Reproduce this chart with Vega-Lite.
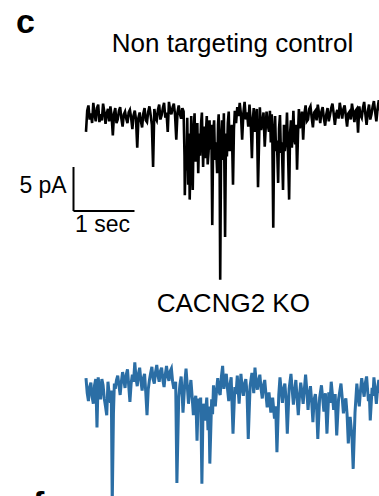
{
  "$schema": "https://vega.github.io/schema/vega-lite/v6.json",
  "width": 379,
  "height": 496,
  "padding": 0,
  "autosize": {"type": "none"},
  "background": "white",
  "config": {"view": {"stroke": null}},
  "datasets": {
    "control": [
      {"t":0.00,"v":-1.8},{"t":0.02,"v":0.6},{"t":0.04,"v":1.2},{"t":0.06,"v":-0.4},{"t":0.08,"v":0.3},{"t":0.10,"v":-0.8},{"t":0.12,"v":1.5},{"t":0.14,"v":0.2},{"t":0.16,"v":-0.6},{"t":0.18,"v":0.9},{"t":0.20,"v":1.3},{"t":0.22,"v":-0.7},{"t":0.24,"v":0.2},{"t":0.26,"v":-0.5},{"t":0.28,"v":1.4},{"t":0.30,"v":0.5},{"t":0.32,"v":-0.9},{"t":0.34,"v":0.3},{"t":0.36,"v":0.8},{"t":0.38,"v":-0.6},
      {"t":0.40,"v":1.1},{"t":0.42,"v":0.0},{"t":0.44,"v":-2.2},{"t":0.46,"v":0.3},{"t":0.48,"v":0.9},{"t":0.50,"v":-0.8},{"t":0.52,"v":-0.4},{"t":0.54,"v":0.6},{"t":0.56,"v":1.0},{"t":0.58,"v":-0.3},{"t":0.60,"v":-1.2},{"t":0.62,"v":0.2},{"t":0.64,"v":0.5},{"t":0.66,"v":-0.3},{"t":0.68,"v":-0.8},{"t":0.70,"v":0.4},{"t":0.72,"v":0.7},{"t":0.74,"v":-0.2},{"t":0.76,"v":-1.5},{"t":0.78,"v":0.1},
      {"t":0.80,"v":0.6},{"t":0.82,"v":-0.4},{"t":0.84,"v":-3.6},{"t":0.86,"v":-0.2},{"t":0.88,"v":0.4},{"t":0.90,"v":-0.6},{"t":0.92,"v":-1.3},{"t":0.94,"v":0.3},{"t":0.96,"v":0.9},{"t":0.98,"v":-0.5},{"t":1.00,"v":-0.7},{"t":1.02,"v":0.5},{"t":1.04,"v":1.1},{"t":1.06,"v":0.1},{"t":1.08,"v":-1.0},{"t":1.10,"v":-5.8},{"t":1.12,"v":0.8},{"t":1.14,"v":-0.2},
      {"t":1.16,"v":-0.5},{"t":1.18,"v":0.7},{"t":1.20,"v":1.3},{"t":1.22,"v":-0.4},{"t":1.24,"v":0.1},{"t":1.26,"v":0.9},{"t":1.28,"v":1.5},{"t":1.30,"v":-0.2},{"t":1.32,"v":0.4},{"t":1.34,"v":-1.8},{"t":1.36,"v":1.6},{"t":1.38,"v":0.6},{"t":1.40,"v":0.2},{"t":1.42,"v":1.0},{"t":1.44,"v":1.4},{"t":1.46,"v":0.1},{"t":1.48,"v":-2.7},
      {"t":1.50,"v":0.4},{"t":1.52,"v":1.2},{"t":1.54,"v":0.2},{"t":1.56,"v":-0.3},{"t":1.58,"v":0.9},
      {"t":1.60,"v":0.5},{"t":1.615,"v":-4.5},{"t":1.62,"v":-9.0},{"t":1.635,"v":-3.5},{"t":1.65,"v":-6.2},{"t":1.66,"v":-0.2},{"t":1.675,"v":-7.8},{"t":1.69,"v":-2.0},{"t":1.70,"v":-9.5},{"t":1.715,"v":-4.2},{"t":1.725,"v":0.0},{"t":1.74,"v":-6.0},{"t":1.75,"v":-8.4},{"t":1.765,"v":-1.5},{"t":1.78,"v":0.3},{"t":1.795,"v":-5.2},{"t":1.81,"v":-3.8},{"t":1.825,"v":-0.8},{"t":1.84,"v":-6.5},{"t":1.855,"v":-2.0},{"t":1.87,"v":-4.5},{"t":1.885,"v":-1.0},{"t":1.90,"v":0.4},{"t":1.92,"v":-5.8},{"t":1.935,"v":-1.2},{"t":1.95,"v":-4.8},{"t":1.965,"v":-2.0},{"t":1.98,"v":0.0},{"t":1.995,"v":-5.5},{"t":2.01,"v":-4.0},{"t":2.025,"v":-0.5},{"t":2.04,"v":-3.8},{"t":2.055,"v":-1.0},{"t":2.07,"v":-12.4},{"t":2.085,"v":-2.2},{"t":2.10,"v":-0.5},{"t":2.115,"v":-5.0},{"t":2.13,"v":-3.0},{"t":2.15,"v":-6.5},{"t":2.165,"v":-1.0},{"t":2.175,"v":0.2},{"t":2.19,"v":-4.5},{"t":2.20,"v":-18.6},{"t":2.215,"v":-3.0},{"t":2.23,"v":-0.5},{"t":2.245,"v":-5.0},{"t":2.26,"v":0.3},{"t":2.28,"v":-13.75},{"t":2.295,"v":-2.0},{"t":2.31,"v":-4.6},{"t":2.325,"v":-0.8},{"t":2.34,"v":0.5},{"t":2.355,"v":-4.0},{"t":2.37,"v":-3.2},{"t":2.39,"v":-1.0},{"t":2.41,"v":-7.8},{"t":2.425,"v":-1.5},
      {"t":2.44,"v":0.6},{"t":2.46,"v":-0.8},{"t":2.48,"v":1.0},{"t":2.50,"v":0.0},{"t":2.52,"v":1.5},{"t":2.54,"v":0.2},{"t":2.56,"v":-2.7},{"t":2.58,"v":0.3},{"t":2.60,"v":1.6},{"t":2.62,"v":-0.4},{"t":2.64,"v":0.4},{"t":2.66,"v":-1.2},{"t":2.68,"v":1.3},{"t":2.70,"v":-0.6},
      {"t":2.72,"v":-4.8},{"t":2.735,"v":-0.5},{"t":2.75,"v":0.9},{"t":2.765,"v":-1.8},{"t":2.78,"v":-0.6},{"t":2.80,"v":0.8},{"t":2.82,"v":-8.1},{"t":2.85,"v":1.0},{"t":2.87,"v":-1.6},{"t":2.89,"v":-0.9},{"t":2.91,"v":0.4},{"t":2.93,"v":-3.5},{"t":2.96,"v":0.5},{"t":2.98,"v":-1.0},
      {"t":3.00,"v":-1.8},{"t":3.015,"v":0.6},{"t":3.03,"v":-3.0},{"t":3.045,"v":0.2},{"t":3.055,"v":-2.4},{"t":3.07,"v":-12.7},{"t":3.085,"v":-1.9},{"t":3.10,"v":0.0},{"t":3.115,"v":-4.0},{"t":3.13,"v":-2.8},{"t":3.15,"v":-7.6},{"t":3.165,"v":-1.4},{"t":3.18,"v":0.1},{"t":3.195,"v":-4.2},{"t":3.21,"v":-3.0},{"t":3.23,"v":-8.4},{"t":3.245,"v":-1.0},{"t":3.26,"v":-4.0},{"t":3.28,"v":-2.5},{"t":3.295,"v":0.4},{"t":3.31,"v":-3.5},{"t":3.33,"v":-9.5},{"t":3.345,"v":-2.0},{"t":3.36,"v":-0.5},{"t":3.375,"v":-3.6},{"t":3.39,"v":-1.4},{"t":3.40,"v":0.6},{"t":3.415,"v":-2.6},{"t":3.43,"v":-3.2},{"t":3.445,"v":-1.0},{"t":3.46,"v":-6.1},{"t":3.475,"v":-2.2},{"t":3.49,"v":0.8},
      {"t":3.505,"v":-1.4},{"t":3.52,"v":-0.9},{"t":3.54,"v":0.5},{"t":3.56,"v":-2.7},{"t":3.58,"v":0.2},{"t":3.60,"v":1.2},{"t":3.62,"v":-0.6},{"t":3.64,"v":-0.4},{"t":3.66,"v":0.8},{"t":3.68,"v":1.1},{"t":3.70,"v":-0.2},
      {"t":3.72,"v":-1.3},{"t":3.74,"v":0.4},{"t":3.76,"v":0.6},{"t":3.78,"v":-0.5},{"t":3.80,"v":1.3},{"t":3.82,"v":0.3},{"t":3.84,"v":-0.8},{"t":3.86,"v":0.5},{"t":3.88,"v":1.0},{"t":3.90,"v":-0.3},{"t":3.92,"v":-1.1},{"t":3.94,"v":0.2},{"t":3.96,"v":0.9},{"t":3.98,"v":-0.6},{"t":4.00,"v":0.1},{"t":4.02,"v":0.9},{"t":4.04,"v":1.4},{"t":4.06,"v":0.3},{"t":4.08,"v":-1.0},
      {"t":4.10,"v":0.2},{"t":4.12,"v":0.7},{"t":4.14,"v":-0.3},{"t":4.16,"v":1.5},{"t":4.18,"v":0.6},{"t":4.20,"v":-0.3},{"t":4.22,"v":0.8},{"t":4.24,"v":1.2},{"t":4.26,"v":0.0},{"t":4.28,"v":-1.2},{"t":4.30,"v":0.3},{"t":4.32,"v":0.5},{"t":4.34,"v":-0.4},{"t":4.36,"v":1.4},{"t":4.38,"v":0.4},{"t":4.40,"v":-0.7},{"t":4.42,"v":0.6},{"t":4.44,"v":0.8},{"t":4.46,"v":-1.9},
      {"t":4.48,"v":1.1},{"t":4.50,"v":0.1},{"t":4.52,"v":-0.2},{"t":4.54,"v":0.9},{"t":4.56,"v":1.6},{"t":4.58,"v":0.2},{"t":4.60,"v":-1.0},{"t":4.62,"v":0.5},{"t":4.64,"v":1.3},{"t":4.66,"v":-0.4},{"t":4.68,"v":0.2},{"t":4.70,"v":1.1},{"t":4.72,"v":1.7},{"t":4.74,"v":0.5},{"t":4.76,"v":-0.6},{"t":4.78,"v":0.8},{"t":4.80,"v":1.8},{"t":4.82,"v":0.7},{"t":4.84,"v":0.4}
    ],
    "ko": [
      {"t":0.00,"v":-29.8},{"t":0.02,"v":-31.5},{"t":0.04,"v":-32.4},{"t":0.06,"v":-30.8},{"t":0.08,"v":-30.3},{"t":0.10,"v":-31.9},{"t":0.12,"v":-32.7},{"t":0.14,"v":-30.6},{"t":0.16,"v":-29.9},{"t":0.18,"v":-35.4},{"t":0.20,"v":-29.7},{"t":0.22,"v":-31.0},{"t":0.24,"v":-32.2},{"t":0.26,"v":-29.9},{"t":0.28,"v":-30.6},{"t":0.30,"v":-32.1},{"t":0.32,"v":-33.0},
      {"t":0.34,"v":-34.0},{"t":0.36,"v":-30.2},{"t":0.38,"v":-31.6},{"t":0.40,"v":-32.6},{"t":0.415,"v":-31.2},{"t":0.43,"v":-44.2},{"t":0.45,"v":-33.8},{"t":0.465,"v":-30.4},{"t":0.48,"v":-31.0},{"t":0.50,"v":-30.0},{"t":0.52,"v":-29.5},{"t":0.54,"v":-30.6},{"t":0.56,"v":-31.7},{"t":0.58,"v":-30.2},{"t":0.60,"v":-29.1},{"t":0.62,"v":-30.0},{"t":0.64,"v":-30.9},{"t":0.66,"v":-29.4},
      {"t":0.68,"v":-28.8},{"t":0.70,"v":-30.6},{"t":0.72,"v":-32.5},{"t":0.74,"v":-30.4},{"t":0.76,"v":-29.4},{"t":0.78,"v":-30.2},{"t":0.80,"v":-28.0},{"t":0.82,"v":-29.8},{"t":0.84,"v":-30.7},{"t":0.86,"v":-29.3},{"t":0.88,"v":-28.6},{"t":0.90,"v":-30.1},{"t":0.92,"v":-31.2},{"t":0.94,"v":-29.8},{"t":0.96,"v":-29.3},{"t":0.98,"v":-31.4},{"t":1.00,"v":-34.0},{"t":1.02,"v":-31.1},{"t":1.04,"v":-30.0},{"t":1.06,"v":-29.2},
      {"t":1.08,"v":-28.5},{"t":1.10,"v":-29.9},{"t":1.12,"v":-30.4},{"t":1.14,"v":-29.1},{"t":1.16,"v":-28.3},{"t":1.18,"v":-29.5},{"t":1.20,"v":-30.2},{"t":1.22,"v":-29.0},{"t":1.24,"v":-28.6},{"t":1.26,"v":-30.0},{"t":1.28,"v":-30.8},{"t":1.30,"v":-29.4},{"t":1.32,"v":-28.4},{"t":1.34,"v":-29.6},{"t":1.36,"v":-30.1},{"t":1.38,"v":-29.0},{"t":1.40,"v":-28.7},{"t":1.42,"v":-30.2},{"t":1.44,"v":-31.0},
      {"t":1.47,"v":-30.2},{"t":1.49,"v":-41.7},{"t":1.52,"v":-32.0},{"t":1.54,"v":-30.5},{"t":1.56,"v":-29.6},{"t":1.575,"v":-31.4},{"t":1.59,"v":-33.7},{"t":1.62,"v":-30.3},{"t":1.64,"v":-28.7},{"t":1.66,"v":-30.6},{"t":1.68,"v":-32.7},{"t":1.70,"v":-31.2},{"t":1.72,"v":-30.0},{"t":1.74,"v":-31.9},{"t":1.76,"v":-34.0},{"t":1.78,"v":-32.4},
      {"t":1.80,"v":-31.8},{"t":1.82,"v":-36.9},{"t":1.84,"v":-32.1},{"t":1.86,"v":-33.2},{"t":1.88,"v":-32.0},{"t":1.90,"v":-41.8},{"t":1.92,"v":-32.7},{"t":1.95,"v":-34.6},{"t":1.98,"v":-32.0},{"t":2.00,"v":-35.7},{"t":2.015,"v":-33.0},{"t":2.03,"v":-39.5},{"t":2.06,"v":-32.2},{"t":2.075,"v":-33.9},
      {"t":2.09,"v":-30.6},{"t":2.12,"v":-33.0},{"t":2.14,"v":-31.2},{"t":2.16,"v":-29.8},{"t":2.18,"v":-31.3},{"t":2.20,"v":-31.7},{"t":2.22,"v":-29.6},{"t":2.24,"v":-28.4},{"t":2.26,"v":-31.0},{"t":2.28,"v":-30.1},{"t":2.30,"v":-29.3},{"t":2.32,"v":-31.0},{"t":2.34,"v":-32.4},{"t":2.36,"v":-30.5},{"t":2.38,"v":-29.7},{"t":2.41,"v":-36.1},
      {"t":2.44,"v":-30.8},{"t":2.46,"v":-31.6},{"t":2.48,"v":-29.5},{"t":2.51,"v":-32.7},{"t":2.54,"v":-29.3},{"t":2.56,"v":-30.9},{"t":2.58,"v":-31.8},{"t":2.60,"v":-30.4},{"t":2.62,"v":-29.9},{"t":2.64,"v":-31.5},{"t":2.66,"v":-36.7},{"t":2.69,"v":-30.7},{"t":2.72,"v":-29.2},{"t":2.75,"v":-31.5},
      {"t":2.77,"v":-28.6},{"t":2.79,"v":-30.2},{"t":2.81,"v":-31.1},{"t":2.83,"v":-30.0},{"t":2.85,"v":-29.4},{"t":2.87,"v":-31.0},{"t":2.89,"v":-32.1},{"t":2.91,"v":-30.6},{"t":2.93,"v":-30.0},{"t":2.95,"v":-31.6},{"t":2.97,"v":-33.1},{"t":3.00,"v":-31.4},{"t":3.03,"v":-33.7},{"t":3.06,"v":-32.0},{"t":3.09,"v":-34.4},{"t":3.11,"v":-33.0},
      {"t":3.13,"v":-38.2},{"t":3.16,"v":-31.7},{"t":3.18,"v":-29.7},{"t":3.20,"v":-31.2},{"t":3.22,"v":-32.6},{"t":3.24,"v":-31.0},{"t":3.26,"v":-30.4},{"t":3.28,"v":-32.2},{"t":3.30,"v":-36.1},{"t":3.33,"v":-31.0},{"t":3.36,"v":-29.3},{"t":3.38,"v":-31.1},{"t":3.40,"v":-32.8},{"t":3.42,"v":-31.3},{"t":3.44,"v":-30.0},{"t":3.46,"v":-32.0},
      {"t":3.48,"v":-34.0},{"t":3.50,"v":-31.8},{"t":3.52,"v":-30.3},{"t":3.54,"v":-31.4},{"t":3.56,"v":-32.7},{"t":3.58,"v":-31.0},{"t":3.60,"v":-29.4},{"t":3.62,"v":-31.2},{"t":3.64,"v":-33.4},{"t":3.66,"v":-31.6},{"t":3.68,"v":-30.7},{"t":3.70,"v":-32.5},{"t":3.72,"v":-34.8},{"t":3.74,"v":-32.2},{"t":3.76,"v":-31.6},{"t":3.78,"v":-33.0},{"t":3.80,"v":-36.7},{"t":3.83,"v":-32.0},
      {"t":3.86,"v":-30.6},{"t":3.88,"v":-32.1},{"t":3.90,"v":-33.6},{"t":3.925,"v":-31.5},{"t":3.95,"v":-36.1},{"t":3.98,"v":-31.4},{"t":4.00,"v":-32.6},{"t":4.02,"v":-30.2},{"t":4.04,"v":-31.7},{"t":4.06,"v":-33.4},{"t":4.085,"v":-31.6},{"t":4.11,"v":-36.3},{"t":4.14,"v":-32.2},{"t":4.16,"v":-31.3},{"t":4.18,"v":-30.4},{"t":4.20,"v":-32.0},{"t":4.22,"v":-33.8},
      {"t":4.24,"v":-32.6},{"t":4.26,"v":-32.1},{"t":4.28,"v":-33.9},{"t":4.30,"v":-37.2},{"t":4.33,"v":-34.2},{"t":4.36,"v":-36.4},{"t":4.38,"v":-40.1},{"t":4.41,"v":-33.7},{"t":4.44,"v":-30.4},{"t":4.46,"v":-31.9},{"t":4.48,"v":-33.0},{"t":4.50,"v":-31.2},{"t":4.52,"v":-29.8},{"t":4.54,"v":-31.0},{"t":4.56,"v":-31.9},{"t":4.58,"v":-30.3},
      {"t":4.60,"v":-29.6},{"t":4.615,"v":-31.0},{"t":4.63,"v":-32.4},{"t":4.645,"v":-31.6},{"t":4.66,"v":-34.6},{"t":4.69,"v":-30.9},{"t":4.705,"v":-31.8},{"t":4.72,"v":-29.7},{"t":4.74,"v":-31.1},{"t":4.76,"v":-32.7},{"t":4.78,"v":-31.0},{"t":4.80,"v":-30.0},{"t":4.82,"v":-31.3},{"t":4.84,"v":-31.8}
    ],
    "scalebar": [
      {"bar": "5 pA", "t": -0.2049, "t2": -0.2049, "v": -5.795, "v2": -10.795},
      {"bar": "1 sec", "t": -0.2049, "t2": 0.7951, "v": -10.795, "v2": -10.795}
    ],
    "titles": [
      {"label": "Non targeting control", "t": 2.402, "v": 7.31},
      {"label": "CACNG2 KO", "t": 2.415, "v": -22.24}
    ],
    "panels": [
      {"label": "c", "t": -1.148, "v": 9.40},
      {"label": "f", "t": -0.869, "v": -45.34}
    ],
    "barlabel_y": [{"label": "5 pA", "t": -0.316, "v": -8.78}],
    "barlabel_x": [{"label": "1 sec", "t": 0.27, "v": -13.15}]
  },
  "encoding": {
    "x": {"field": "t", "type": "quantitative", "scale": {"domain": [-1.4098, 4.8033], "nice": false, "zero": false}, "axis": null},
    "y": {"field": "v", "type": "quantitative", "scale": {"domain": [-43.182, 13.182], "nice": false, "zero": false}, "axis": null}
  },
  "layer": [
    {"data": {"name": "control"}, "mark": {"type": "line", "color": "#000000", "strokeWidth": 2.6, "strokeJoin": "miter", "clip": true}, "encoding": {"order": {"field": "t"}}},
    {"data": {"name": "ko"}, "mark": {"type": "line", "color": "#2b6ea5", "strokeWidth": 3, "strokeJoin": "miter", "clip": true}, "encoding": {"order": {"field": "t"}}},
    {"data": {"name": "scalebar"}, "mark": {"type": "rule", "color": "#000000", "strokeWidth": 2}, "encoding": {"x2": {"field": "t2"}, "y2": {"field": "v2"}}},
    {"data": {"name": "titles"}, "mark": {"type": "text", "font": "Liberation Sans", "fontSize": 26, "align": "center", "baseline": "alphabetic", "color": "#000000"}, "encoding": {"text": {"field": "label"}}},
    {"data": {"name": "panels"}, "mark": {"type": "text", "font": "Liberation Sans", "fontSize": 34, "fontWeight": "bold", "align": "left", "baseline": "alphabetic", "color": "#000000"}, "encoding": {"text": {"field": "label"}}},
    {"data": {"name": "barlabel_y"}, "mark": {"type": "text", "font": "Liberation Sans", "fontSize": 23, "align": "right", "baseline": "alphabetic", "color": "#000000"}, "encoding": {"text": {"field": "label"}}},
    {"data": {"name": "barlabel_x"}, "mark": {"type": "text", "font": "Liberation Sans", "fontSize": 23, "align": "center", "baseline": "alphabetic", "color": "#000000"}, "encoding": {"text": {"field": "label"}}}
  ]
}
